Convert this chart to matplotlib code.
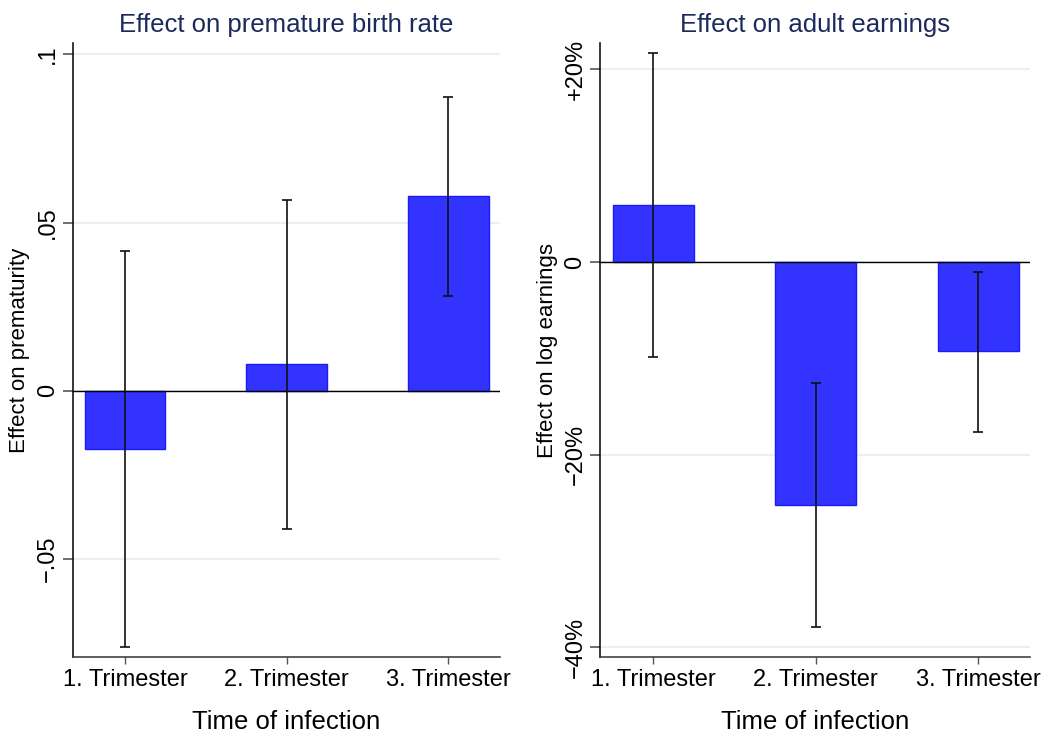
import numpy as np
import matplotlib.pyplot as plt
import matplotlib.ticker as ticker

plt.rcParams['font.family'] = ['Liberation Sans', 'DejaVu Sans']

# Trimester of infection
trimesters = ['1. Trimester', '2. Trimester', '3. Trimester']

# Effect on premature birth rate, with 95% CI
prem_coef = [-0.0172, 0.0078, 0.0580]
prem_lo = [-0.0761, -0.0410, 0.0282]
prem_hi = [0.0415, 0.0567, 0.0873]

# Effect on log adult earnings, with 95% CI
earn_coef = [0.0594, -0.2525, -0.0927]
earn_lo = [-0.0987, -0.3788, -0.1764]
earn_hi = [0.2167, -0.1257, -0.0104]

bar_face = '#3333ff'
bar_edge = '#1a1aff'
grid_col = '#e9f0f2'
title_col = '#1a2a5c'

fig = plt.figure(figsize=(10.45, 7.4), dpi=100)
ax1 = fig.add_axes([0.0694, 0.1116, 0.4091, 0.8303])
ax2 = fig.add_axes([0.5745, 0.1116, 0.4115, 0.8303])


def draw_panel(ax, coef, lo, hi, title, ylabel, ylim, yticks, yticklabels):
    x = np.arange(1, len(coef) + 1)
    coef = np.array(coef)
    yerr = np.vstack([coef - np.array(lo), np.array(hi) - coef])
    ax.bar(x, coef, width=0.5, color=bar_face, edgecolor=bar_edge,
           linewidth=1.0, zorder=2)
    ax.axhline(0, color='black', linewidth=1.0, zorder=3)
    ax.errorbar(x, coef, yerr=yerr, fmt='none', ecolor='#111111',
                elinewidth=1.2, capsize=3.5, capthick=1.2, zorder=4)
    ax.set_xlim(0.675, 3.32)
    ax.set_ylim(*ylim)
    ax.set_xticks(x)
    ax.set_xticklabels(trimesters, fontsize=17)
    ax.set_yticks(yticks)
    ax.set_yticklabels(yticklabels, fontsize=17, rotation=90, va='center')
    ax.yaxis.grid(True, color=grid_col, linewidth=1.5, zorder=0)
    ax.set_axisbelow(True)
    for side in ['top', 'right']:
        ax.spines[side].set_visible(False)
    ax.spines['left'].set_linewidth(1.1)
    ax.spines['bottom'].set_linewidth(1.1)
    ax.spines['bottom'].set_color('#333333')
    ax.tick_params(axis='y', length=7, width=1.2, color='#555555', pad=3)
    ax.tick_params(axis='x', length=5, width=1.0, color='#555555', pad=3)
    ax.set_title(title, fontsize=18.5, color=title_col, pad=8)
    ax.set_xlabel('Time of infection', fontsize=18.5, labelpad=14)
    ax.set_ylabel(ylabel, fontsize=16, labelpad=5)


draw_panel(ax1, prem_coef, prem_lo, prem_hi,
           'Effect on premature birth rate', 'Effect on prematurity',
           (-0.0793, 0.1034), [-0.05, 0, 0.05, 0.1],
           ['\u2212.05', '0', '.05', '.1'])

draw_panel(ax2, earn_coef, earn_lo, earn_hi,
           'Effect on adult earnings', 'Effect on log earnings',
           (-0.4103, 0.2272), [-0.4, -0.2, 0, 0.2],
           ['\u221240%', '\u221220%', '0', '+20%'])

fig.savefig('out.png', dpi=100)
